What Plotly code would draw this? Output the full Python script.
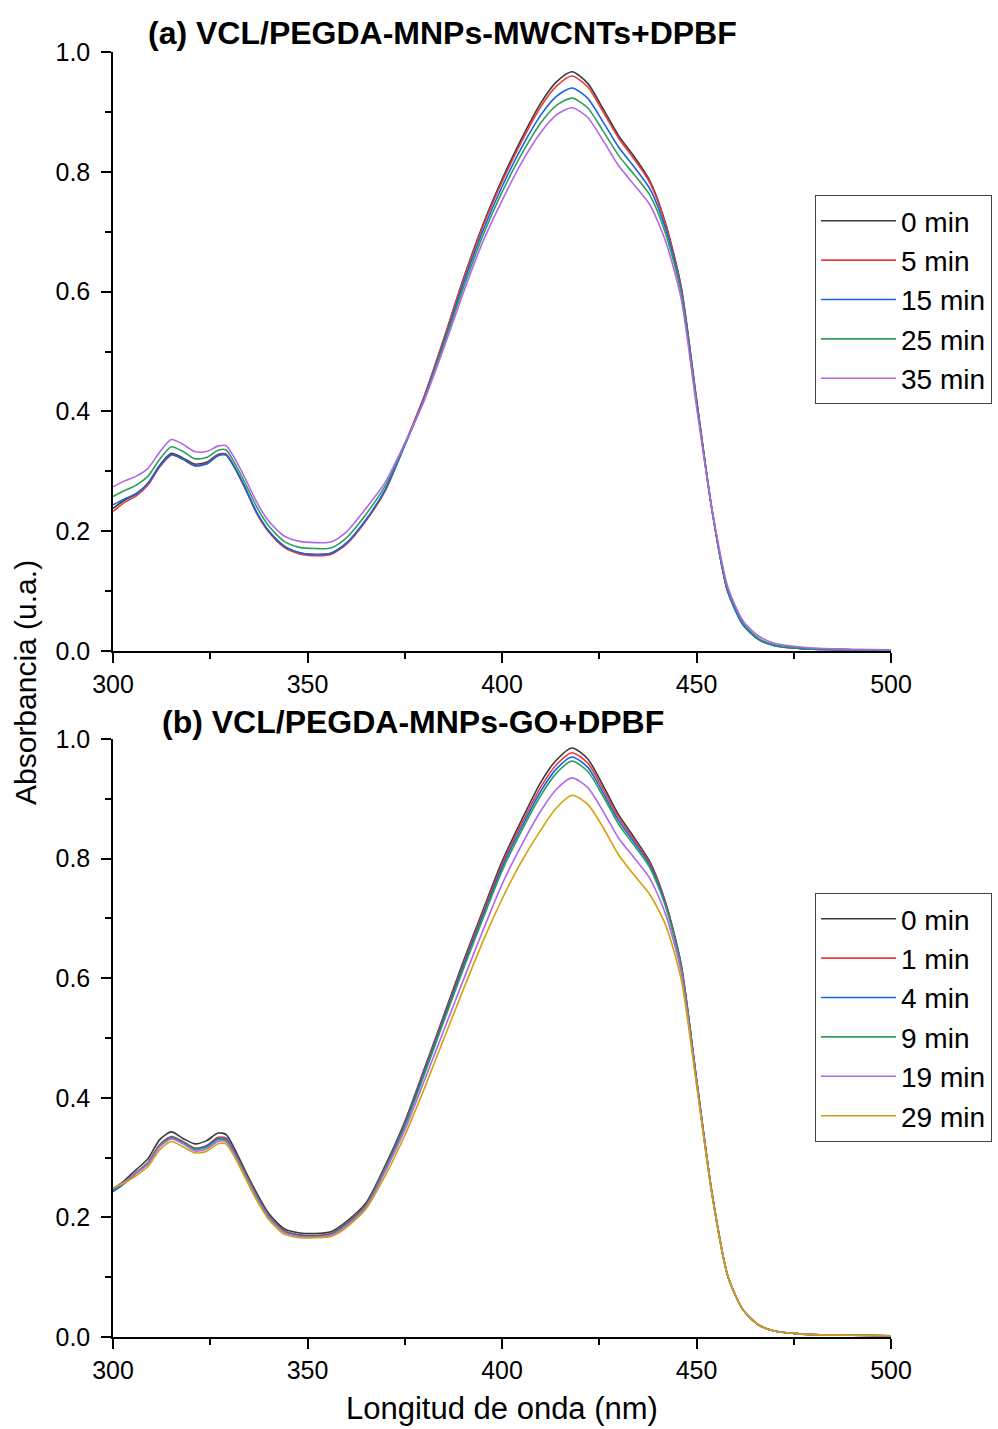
import plotly.graph_objects as go

# Wavelength grid (nm)
wavelength = [300, 303, 306, 309, 312, 315, 318, 321, 324, 327, 329, 331, 334, 337, 340, 344, 348,
              352, 356, 360, 365, 370, 375, 380, 385, 390, 395, 400, 405, 410, 414, 418, 422, 426,
              430, 434, 438, 442, 446, 450, 454, 458, 462, 466, 470, 475, 480, 490, 500]

# Panel (a): VCL/PEGDA-MNPs-MWCNTs+DPBF
a_labels = ["0 min", "5 min", "15 min", "25 min", "35 min"]
a_0 = [0.238, 0.252, 0.262, 0.280, 0.310, 0.330, 0.322, 0.312, 0.315, 0.328, 0.329, 0.310, 0.272, 0.230,
       0.200, 0.175, 0.164, 0.161, 0.163, 0.180, 0.218, 0.268, 0.345, 0.425, 0.520, 0.620, 0.710, 0.787,
       0.855, 0.915, 0.950, 0.967, 0.948, 0.905, 0.860, 0.825, 0.785, 0.715, 0.610, 0.420, 0.235, 0.100,
       0.045, 0.020, 0.010, 0.005, 0.003, 0.002, 0.001]
a_5 = [0.233, 0.248, 0.259, 0.277, 0.307, 0.327, 0.320, 0.310, 0.313, 0.327, 0.328, 0.309, 0.271, 0.229,
       0.199, 0.173, 0.162, 0.159, 0.161, 0.178, 0.217, 0.268, 0.345, 0.425, 0.520, 0.618, 0.707, 0.783,
       0.850, 0.909, 0.943, 0.960, 0.942, 0.900, 0.856, 0.821, 0.782, 0.713, 0.609, 0.420, 0.235, 0.100,
       0.044, 0.019, 0.009, 0.005, 0.003, 0.002, 0.001]
a_15 = [0.244, 0.254, 0.263, 0.280, 0.309, 0.328, 0.320, 0.309, 0.312, 0.326, 0.327, 0.309, 0.272, 0.231,
        0.201, 0.175, 0.164, 0.161, 0.163, 0.180, 0.219, 0.270, 0.343, 0.422, 0.515, 0.612, 0.700, 0.775,
        0.840, 0.895, 0.926, 0.940, 0.923, 0.883, 0.841, 0.808, 0.772, 0.706, 0.605, 0.418, 0.234, 0.100,
        0.043, 0.019, 0.009, 0.005, 0.003, 0.002, 0.001]
a_25 = [0.258, 0.268, 0.277, 0.292, 0.320, 0.341, 0.333, 0.321, 0.323, 0.335, 0.336, 0.317, 0.280, 0.240,
        0.209, 0.183, 0.173, 0.171, 0.172, 0.189, 0.228, 0.276, 0.345, 0.420, 0.511, 0.605, 0.692, 0.766,
        0.829, 0.882, 0.911, 0.923, 0.907, 0.868, 0.827, 0.795, 0.761, 0.698, 0.600, 0.415, 0.235, 0.103,
        0.046, 0.021, 0.010, 0.006, 0.004, 0.002, 0.001]
a_35 = [0.274, 0.284, 0.292, 0.305, 0.332, 0.353, 0.345, 0.333, 0.333, 0.342, 0.343, 0.325, 0.288, 0.248,
        0.217, 0.192, 0.183, 0.181, 0.182, 0.199, 0.238, 0.282, 0.347, 0.418, 0.505, 0.597, 0.682, 0.752,
        0.815, 0.866, 0.895, 0.907, 0.891, 0.852, 0.810, 0.778, 0.745, 0.685, 0.590, 0.408, 0.236, 0.108,
        0.050, 0.025, 0.013, 0.008, 0.005, 0.003, 0.002]

# Panel (b): VCL/PEGDA-MNPs-GO+DPBF
b_labels = ["0 min", "1 min", "4 min", "9 min", "19 min", "29 min"]
b_0 = [0.247, 0.262, 0.280, 0.298, 0.330, 0.343, 0.332, 0.323, 0.328, 0.341, 0.339, 0.318, 0.278, 0.240,
       0.207, 0.181, 0.174, 0.173, 0.176, 0.193, 0.224, 0.287, 0.360, 0.448, 0.537, 0.627, 0.712, 0.795,
       0.864, 0.928, 0.965, 0.985, 0.967, 0.922, 0.873, 0.835, 0.795, 0.728, 0.625, 0.432, 0.240, 0.103,
       0.045, 0.020, 0.010, 0.006, 0.004, 0.003, 0.002]
b_1 = [0.245, 0.258, 0.275, 0.292, 0.322, 0.335, 0.327, 0.316, 0.320, 0.334, 0.333, 0.313, 0.274, 0.236,
       0.204, 0.178, 0.171, 0.170, 0.173, 0.190, 0.221, 0.284, 0.357, 0.445, 0.534, 0.623, 0.708, 0.790,
       0.858, 0.920, 0.957, 0.977, 0.960, 0.916, 0.868, 0.831, 0.792, 0.726, 0.624, 0.431, 0.240, 0.103,
       0.045, 0.020, 0.010, 0.006, 0.004, 0.003, 0.002]
b_4 = [0.243, 0.257, 0.274, 0.291, 0.321, 0.334, 0.326, 0.315, 0.319, 0.332, 0.331, 0.312, 0.273, 0.235,
       0.203, 0.177, 0.170, 0.169, 0.172, 0.189, 0.220, 0.283, 0.355, 0.442, 0.531, 0.619, 0.703, 0.785,
       0.852, 0.913, 0.950, 0.970, 0.953, 0.910, 0.863, 0.827, 0.789, 0.724, 0.622, 0.430, 0.239, 0.103,
       0.045, 0.020, 0.010, 0.006, 0.004, 0.003, 0.002]
b_9 = [0.246, 0.259, 0.275, 0.291, 0.320, 0.333, 0.325, 0.314, 0.317, 0.330, 0.329, 0.310, 0.272, 0.234,
       0.202, 0.176, 0.169, 0.168, 0.171, 0.188, 0.219, 0.281, 0.352, 0.438, 0.527, 0.614, 0.698, 0.779,
       0.846, 0.906, 0.943, 0.963, 0.946, 0.904, 0.857, 0.822, 0.785, 0.721, 0.620, 0.429, 0.239, 0.103,
       0.045, 0.020, 0.010, 0.006, 0.004, 0.003, 0.002]
b_19 = [0.248, 0.260, 0.274, 0.289, 0.318, 0.331, 0.323, 0.311, 0.314, 0.327, 0.327, 0.308, 0.270, 0.232,
        0.200, 0.175, 0.168, 0.167, 0.170, 0.186, 0.217, 0.277, 0.346, 0.428, 0.512, 0.596, 0.678, 0.757,
        0.822, 0.880, 0.916, 0.935, 0.919, 0.879, 0.834, 0.801, 0.767, 0.708, 0.612, 0.426, 0.238, 0.103,
        0.045, 0.020, 0.010, 0.006, 0.004, 0.003, 0.002]
b_29 = [0.249, 0.258, 0.270, 0.285, 0.313, 0.327, 0.318, 0.308, 0.310, 0.323, 0.323, 0.304, 0.266, 0.228,
        0.197, 0.172, 0.166, 0.166, 0.168, 0.183, 0.214, 0.270, 0.337, 0.415, 0.498, 0.580, 0.660, 0.732,
        0.795, 0.848, 0.885, 0.906, 0.891, 0.852, 0.806, 0.772, 0.740, 0.690, 0.600, 0.422, 0.237, 0.103,
        0.045, 0.020, 0.010, 0.006, 0.004, 0.003, 0.002]

a_series = [a_0, a_5, a_15, a_25, a_35]
b_series = [b_0, b_1, b_4, b_9, b_19, b_29]
colors = ["#3a3a3a", "#EE3B3B", "#1565E0", "#2E9E5A", "#B266E8", "#D4A00C"]

W, H = 998, 1429
ML, MR, MT, MB = 113, 107, 52, 92
PW, PH = W - ML - MR, H - MT - MB

def py(p):  # pixel y -> paper y
    return (H - MB - p) / PH

def px(p):  # pixel x -> paper x
    return (p - ML) / PW

fig = go.Figure()
for i, (lab, ys) in enumerate(zip(a_labels, a_series)):
    fig.add_trace(go.Scatter(x=wavelength, y=ys, name=lab, mode="lines",
                             line=dict(color=colors[i], width=1.6, shape="spline", smoothing=0.7),
                             xaxis="x", yaxis="y", legend="legend"))
for i, (lab, ys) in enumerate(zip(b_labels, b_series)):
    fig.add_trace(go.Scatter(x=wavelength, y=ys, name=lab, mode="lines",
                             line=dict(color=colors[i], width=1.6, shape="spline", smoothing=0.7),
                             xaxis="x2", yaxis="y2", legend="legend2"))

font_family = "Liberation Sans, Arial, sans-serif"
axis_common = dict(showline=True, linecolor="black", linewidth=1.5, ticks="outside",
                   ticklen=10, tickwidth=1.5, tickcolor="black", showgrid=False, zeroline=False,
                   mirror=False, automargin=False,
                   tickfont=dict(size=25, color="black", family=font_family))

xa = dict(axis_common, range=[300, 500], tickvals=[300, 350, 400, 450, 500],
          minor=dict(ticks="outside", ticklen=6, tickwidth=1.5, tickcolor="black", dtick=25, tick0=300))
ya = dict(axis_common, range=[0, 1.0], tickvals=[0, 0.2, 0.4, 0.6, 0.8, 1.0], tickformat=".1f",
          ticklabelstandoff=6,
          minor=dict(ticks="outside", ticklen=6, tickwidth=1.5, tickcolor="black", dtick=0.1, tick0=0))

top_dom = [py(651), py(52)]
bot_dom = [py(1337), py(739)]

legend_common = dict(bgcolor="white", bordercolor="#444444", borderwidth=1,
                     font=dict(size=28, color="black", family=font_family),
                     xanchor="left", yanchor="top", itemwidth=75, tracegroupgap=0)

fig.update_layout(
    width=W, height=H,
    margin=dict(l=ML, r=MR, t=MT, b=MB, autoexpand=False),
    plot_bgcolor="white", paper_bgcolor="white",
    font=dict(family=font_family, color="black"),
    xaxis=dict(xa, domain=[0, 1], anchor="y"),
    yaxis=dict(ya, domain=top_dom, anchor="x"),
    xaxis2=dict(xa, domain=[0, 1], anchor="y2"),
    yaxis2=dict(ya, domain=bot_dom, anchor="x2"),
    legend=dict(legend_common, x=px(815), y=py(195)),
    legend2=dict(legend_common, x=px(815), y=py(893)),
    showlegend=True,
)

fig.add_annotation(text="<b>(a) VCL/PEGDA-MNPs-MWCNTs+DPBF</b>", xref="paper", yref="paper",
                   x=px(442), y=py(33), xanchor="center", yanchor="middle", showarrow=False,
                   font=dict(size=32, color="black", family=font_family))
fig.add_annotation(text="<b>(b) VCL/PEGDA-MNPs-GO+DPBF</b>", xref="paper", yref="paper",
                   x=px(413), y=py(722), xanchor="center", yanchor="middle", showarrow=False,
                   font=dict(size=32, color="black", family=font_family))
fig.add_annotation(text="Absorbancia (u.a.)", xref="paper", yref="paper",
                   x=px(25), y=py(683), xanchor="center", yanchor="middle", textangle=-90,
                   showarrow=False, font=dict(size=30, color="black", family=font_family))
fig.add_annotation(text="Longitud de onda (nm)", xref="paper", yref="paper",
                   x=px(502), y=py(1408), xanchor="center", yanchor="middle",
                   showarrow=False, font=dict(size=31, color="black", family=font_family))

fig.write_html("out.html")
